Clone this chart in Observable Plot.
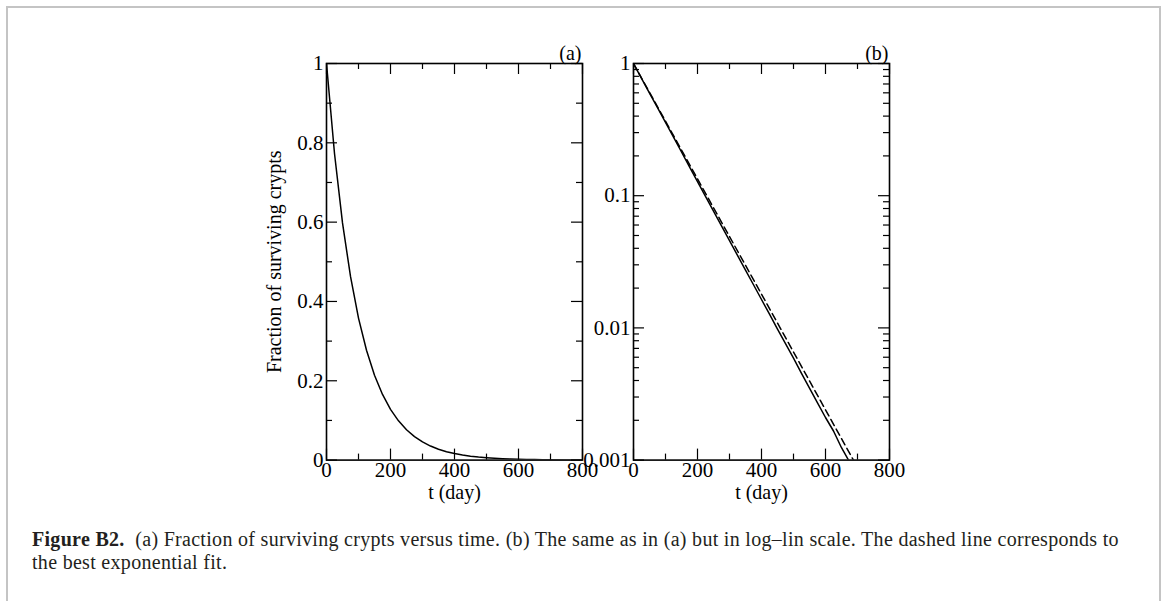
<!DOCTYPE html>
<html><head><meta charset="utf-8">
<script src="https://cdn.jsdelivr.net/npm/d3@7"></script>
<script src="https://cdn.jsdelivr.net/npm/@observablehq/plot@0.6"></script>
<style>
html,body{margin:0;padding:0;background:#fff;}
#root{position:relative;width:1167px;height:601px;overflow:hidden;font-family:"Liberation Serif","Times New Roman",serif;}
#border{position:absolute;left:6px;top:6px;width:1155px;height:640px;border:2px solid #c4c4c4;box-sizing:border-box;}
.panel{position:absolute;}
#caption{position:absolute;left:32px;top:528px;font-size:20px;letter-spacing:0.3px;line-height:23px;color:#231f20;white-space:nowrap;}
</style></head><body>
<div id="root">
  <div id="border"></div>
  <div id="pa" class="panel"></div>
  <div id="pb" class="panel"></div>
  <div id="caption"></div>
</div>
<script>
// ---- data ----
const days = [0,25,50,75,100,125,150,175,200,225,250,275,300,325,350,375,400,425,450,475,500,525,550,575,600,625,650,675,700,750,800];
const surviving = [1,0.773,0.598,0.463,0.358,0.277,0.214,0.1655,0.128,0.099,0.0765,0.0592,0.0458,0.0354,0.0274,0.0212,0.0164,0.0127,0.0098,0.0076,0.0059,0.00453,0.0035,0.00271,0.0021,0.00166,0.00124,0.00097,0.00075,0.00045,0.00027];
const fitDays = [0,100,200,300,400,500,600,700,800];
const fitValues = [1,0.366,0.134,0.0491,0.0180,0.00657,0.0024,0.00088,0.00032];

const xMajor = [0,200,400,600,800];
const xMinor = [100,300,500,700];
const yLinMajor = [0,0.2,0.4,0.6,0.8,1];
const yLinMinor = [0.1,0.3,0.5,0.7,0.9];
const yLogMajor = [0.001,0.01,0.1,1];
const yLogMinor = [0.002,0.003,0.004,0.005,0.006,0.007,0.008,0.009,0.02,0.03,0.04,0.05,0.06,0.07,0.08,0.09,0.2,0.3,0.4,0.5,0.6,0.7,0.8,0.9];
const panelLabels = ["(a)","(b)"];
const yTitle = "Fraction of surviving crypts";
const xTitle = "t (day)";
const captionBold = "Figure B2.";
const captionLines = ["(a) Fraction of surviving crypts versus time. (b) The same as in (a) but in log\u2013lin scale. The dashed line corresponds to","the best exponential fit."];

// ---- layout ----
const M = {top:40,right:20,bottom:60,left:70};
const FW = 256, FH = 396.6;
const FONT = "Liberation Serif, Times New Roman, serif";

function tickMarks(yMajor, yMinor) {
  const big = 11, small = 6;
  return [
    Plot.ruleX(xMajor, {x: d => d, insetTop: FH - big, stroke: "#000", strokeWidth: 1.2}),
    Plot.ruleX(xMajor, {x: d => d, insetBottom: FH - big, stroke: "#000", strokeWidth: 1.2}),
    Plot.ruleX(xMinor, {x: d => d, insetTop: FH - small, stroke: "#000", strokeWidth: 1.2}),
    Plot.ruleX(xMinor, {x: d => d, insetBottom: FH - small, stroke: "#000", strokeWidth: 1.2}),
    Plot.ruleY(yMajor, {y: d => d, insetRight: FW - big, stroke: "#000", strokeWidth: 1.2}),
    Plot.ruleY(yMajor, {y: d => d, insetLeft: FW - big, stroke: "#000", strokeWidth: 1.2}),
    Plot.ruleY(yMinor, {y: d => d, insetRight: FW - small, stroke: "#000", strokeWidth: 1.2}),
    Plot.ruleY(yMinor, {y: d => d, insetLeft: FW - small, stroke: "#000", strokeWidth: 1.2})
  ];
}

function makePanel(isLog) {
  const yMajor = isLog ? yLogMajor : yLinMajor;
  const yMinor = isLog ? yLogMinor : yLinMinor;
  const marks = [
    ...tickMarks(yMajor, yMinor),
    Plot.axisX({anchor: "bottom", ticks: xMajor, tickSize: 0, tickPadding: 2, label: null, tickFormat: d => String(d), fontSize: 21}),
    Plot.axisY({anchor: "left", ticks: yMajor, tickSize: 0, tickPadding: 3, label: null, tickFormat: d => String(d), fontSize: 21}),
    Plot.text([xTitle], {frameAnchor: "bottom", dy: 25, lineAnchor: "top", fontSize: 20, fill: "#000"}),
    Plot.text([isLog ? panelLabels[1] : panelLabels[0]], {frameAnchor: "top-right", dy: -3, dx: -1, textAnchor: "end", lineAnchor: "bottom", fontSize: 20, fill: "#000"}),
    Plot.line(surviving, {x: days, y: surviving, stroke: "#000", strokeWidth: 1.5, clip: true})
  ];
  if (isLog) {
    marks.push(Plot.line(fitValues, {x: fitDays, y: fitValues, stroke: "#000", strokeWidth: 1.5, strokeDasharray: "7,4", clip: true}));
  } else {
    marks.push(Plot.text([yTitle], {frameAnchor: "left", rotate: -90, textAnchor: "middle", dx: -52, fontSize: 20, fill: "#000"}));
  }
  marks.push(Plot.frame({stroke: "#000", strokeWidth: 1.6}));
  return Plot.plot({
    width: M.left + FW + M.right,
    height: M.top + FH + M.bottom,
    marginTop: M.top, marginRight: M.right, marginBottom: M.bottom, marginLeft: M.left,
    x: {domain: [0, 800]},
    y: isLog ? {type: "log", domain: [0.001, 1]} : {domain: [0, 1]},
    style: {background: "transparent", overflow: "visible", fontFamily: FONT, fontSize: "20px", color: "#000"},
    marks
  });
}

const pa = document.getElementById("pa");
const pb = document.getElementById("pb");
pa.style.left = (326 - M.left) + "px"; pa.style.top = (62.7 - M.top) + "px";
pb.style.left = (633.3 - M.left) + "px"; pb.style.top = (62.7 - M.top) + "px";
pa.appendChild(makePanel(false));
pb.appendChild(makePanel(true));

const cap = document.getElementById("caption");
const b = document.createElement("b"); b.textContent = captionBold; cap.appendChild(b);
cap.appendChild(document.createTextNode("\u00a0\u00a0" + captionLines[0]));
cap.appendChild(document.createElement("br"));
cap.appendChild(document.createTextNode(captionLines[1]));
</script>
</body></html>
